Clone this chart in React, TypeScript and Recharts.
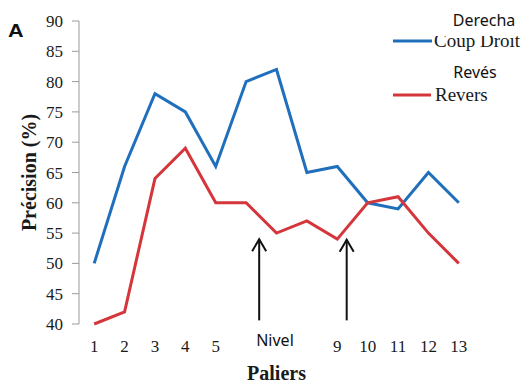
import { Legend, Line, LineChart, ReferenceLine, XAxis, YAxis } from "recharts";

const paliers = [1, 2, 3, 4, 5, 6, 7, 8, 9, 10, 11, 12, 13];
// labels 6, 7 and 8 are hidden under the "Nivel" box in the figure
const paliersVisibles = [1, 2, 3, 4, 5, 9, 10, 11, 12, 13];
const coupDroit = [50, 66, 78, 75, 66, 80, 82, 65, 66, 60, 59, 65, 60];
const revers = [40, 42, 64, 69, 60, 60, 55, 57, 54, 60, 61, 55, 50];
const yTicks = [40, 45, 50, 55, 60, 65, 70, 75, 80, 85, 90];

// arrows under the "Nivel" box (palier position, bottom, tip)
const fleches = [
  { palier: 6.43, base: 40.6, pointe: 54 },
  { palier: 9.31, base: 40.6, pointe: 53.9 },
];

const data = paliers.map((p, i) => ({
  palier: p,
  coupDroit: coupDroit[i],
  revers: revers[i],
}));

// tick marks sit between the labels, like Excel
const bornes = [...paliers.map((p) => p - 0.5), paliers[paliers.length - 1] + 0.5];
const domaineX: [number, number] = [bornes[0], bornes[bornes.length - 1]];

const BLEU = "#1f6fbd";
const ROUGE = "#d4363b";
const GRIS = "#9a9a9a";
const SERIF = '"Liberation Serif", "Times New Roman", serif';
const SANS = '"Noto Sans", sans-serif';

function Graduation(props: any) {
  const { x, y, payload, textAnchor } = props;
  return (
    <text
      x={x}
      y={y}
      dy="0.355em"
      textAnchor={textAnchor}
      fontFamily={SERIF}
      fontSize={17}
      fill="#1a1a1a"
    >
      {payload.value}
    </text>
  );
}

function GraduationX(props: any) {
  const { x, y, payload } = props;
  return (
    <text x={x} y={y} dy="0.71em" textAnchor="middle" fontFamily={SERIF} fontSize={17} fill="#1a1a1a">
      {payload.value}
    </text>
  );
}

function Fleche(props: any) {
  const { x1, y1, x2, y2 } = props;
  return (
    <g>
      <line x1={x1} y1={y1} x2={x2} y2={y2} stroke="#111" strokeWidth={2} />
      <polyline
        points={`${x2 - 7},${y2 + 12} ${x2},${y2} ${x2 + 7},${y2 + 12}`}
        fill="none"
        stroke="#111"
        strokeWidth={2}
      />
    </g>
  );
}

function Legende() {
  return (
    <svg width={148} height={120} style={{ display: "block" }}>
      <line x1={13} y1={41} x2={52} y2={41} stroke={BLEU} strokeWidth={3} />
      <text x={54} y={47} fontFamily={SERIF} fontSize={19} fill="#1a1a1a">
        Coup Droit
      </text>
      <line x1={13} y1={95} x2={51} y2={95} stroke={ROUGE} strokeWidth={3} />
      <text x={55} y={101} fontFamily={SERIF} fontSize={19} fill="#1a1a1a">
        Revers
      </text>
      {/* translated labels pasted over the originals */}
      <rect x={53} y={4} width={95} height={32} fill="#fff" />
      <text x={104} y={26} textAnchor="middle" fontFamily={SANS} fontSize={16} fill="#111">
        Derecha
      </text>
      <rect x={53} y={58} width={95} height={29} fill="#fff" />
      <text x={95} y={78} textAnchor="middle" fontFamily={SANS} fontSize={16} fill="#111">
        Revés
      </text>
    </svg>
  );
}

export default function App() {
  return (
    <div
      style={{
        position: "absolute",
        top: 0,
        left: 0,
        width: 528,
        height: 383,
        background: "#fff",
        overflow: "hidden",
      }}
    >
      <LineChart
        width={528}
        height={383}
        data={data}
        margin={{ top: 21, right: 54, bottom: 0, left: 0 }}
        style={{ fontFamily: SERIF }}
      >
        <XAxis
          xAxisId="marks"
          dataKey="palier"
          type="number"
          domain={domaineX}
          ticks={bornes}
          tick={false}
          tickSize={5}
          height={0}
          stroke={GRIS}
        />
        <XAxis
          xAxisId="labels"
          dataKey="palier"
          type="number"
          domain={domaineX}
          ticks={paliersVisibles}
          tick={<GraduationX />}
          tickLine={false}
          axisLine={false}
          tickSize={0}
          tickMargin={16}
          height={59}
          interval={0}
          label={{
            value: "Paliers",
            position: "insideBottom",
            offset: 3,
            style: { fontFamily: SERIF, fontSize: 20, fontWeight: "bold", fill: "#1a1a1a" },
          }}
        />
        <YAxis
          domain={[40, 90]}
          ticks={yTicks}
          width={79}
          tick={<Graduation />}
          tickSize={7}
          tickMargin={9}
          stroke={GRIS}
          interval={0}
          label={{
            value: "Précision (%)",
            angle: -90,
            position: "center",
            dx: -11,
            style: { fontFamily: SERIF, fontSize: 20, fontWeight: "bold", fill: "#1a1a1a" },
          }}
        />
        <Legend
          layout="vertical"
          align="center"
          verticalAlign="middle"
          wrapperStyle={{ top: 0, left: 380, width: 148, height: 120 }}
          content={() => <Legende />}
        />
        <Line
          xAxisId="marks"
          type="linear"
          dataKey="coupDroit"
          name="Coup Droit"
          stroke={BLEU}
          strokeWidth={3}
          dot={false}
          isAnimationActive={false}
        />
        <Line
          xAxisId="marks"
          type="linear"
          dataKey="revers"
          name="Revers"
          stroke={ROUGE}
          strokeWidth={3}
          dot={false}
          isAnimationActive={false}
        />
        {fleches.map((f) => (
          <ReferenceLine
            key={f.palier}
            xAxisId="marks"
            segment={[
              { x: f.palier, y: f.base },
              { x: f.palier, y: f.pointe },
            ]}
            shape={(p: any) => <Fleche {...p} />}
          />
        ))}
      </LineChart>

      {/* white box with the translated axis note */}
      <div
        style={{
          position: "absolute",
          left: 233,
          top: 322,
          width: 82,
          height: 38,
          background: "#fff",
          fontFamily: SANS,
          fontSize: 16,
          color: "#111",
          textAlign: "center",
          lineHeight: "36px",
          paddingLeft: 2,
          boxSizing: "border-box",
        }}
      >
        Nivel
      </div>

      <div
        style={{
          position: "absolute",
          left: 8,
          top: 21,
          fontFamily: '"Liberation Sans", Arial, sans-serif',
          fontWeight: "bold",
          fontSize: 18,
          lineHeight: "20px",
          color: "#111",
          transform: "scaleX(1.2)",
          transformOrigin: "left top",
        }}
      >
        A
      </div>
    </div>
  );
}
